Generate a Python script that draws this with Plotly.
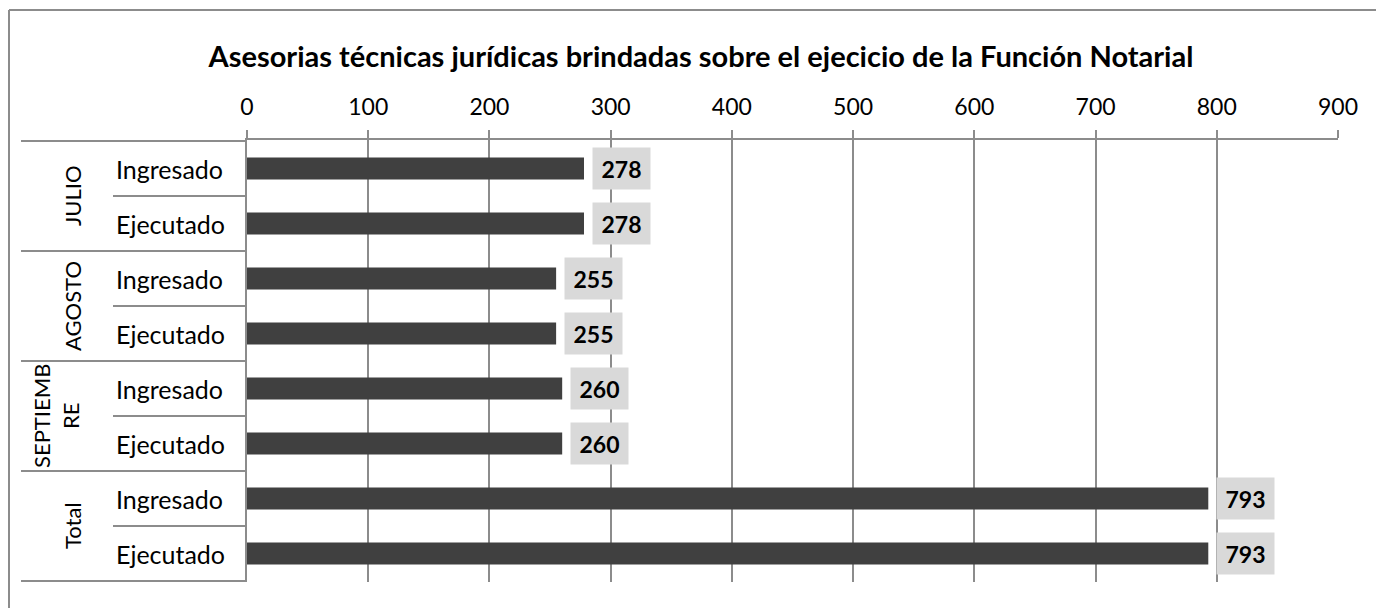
import plotly.graph_objects as go

# ---- data ----
months = ["JULIO", "AGOSTO", "SEPTIEMBRE", "Total"]
month_labels = ["JULIO", "AGOSTO", "SEPTIEMB<br>RE", "Total"]
statuses = ["Ingresado", "Ejecutado"]
ingresado = [278, 255, 260, 793]
ejecutado = [278, 255, 260, 793]
x_ticks = [0, 100, 200, 300, 400, 500, 600, 700, 800, 900]
title = "Asesorias técnicas jurídicas brindadas sobre el ejecicio de la Función Notarial"

# build rows
cats, vals, stat_lbl = [], [], []
for m, vi, ve in zip(months, ingresado, ejecutado):
    for s, v in zip(statuses, [vi, ve]):
        cats.append(f"{m}|{s}")
        vals.append(v)
        stat_lbl.append(s)

OFF = 8  # page body margin
W, H = 1384 - OFF, 608 - OFF
L, R, T, B = 247 - OFF, 46, 140 - OFF, 26
pw = W - L - R
ph = H - T - B
FONT = "Lato"
GRID = "#8c8c8c"

def px2paper(px):
    return (px - OFF - L) / pw

def py2paper(py):
    return 1 - (py - OFF - T) / ph

fig = go.Figure()
fig.add_trace(go.Bar(
    x=vals, y=cats, orientation="h",
    marker=dict(color="#404040", line=dict(width=0)),
    width=0.4, hoverinfo="x+y",
))

annotations = []
# data labels
for c, v in zip(cats, vals):
    annotations.append(dict(
        x=v, y=c, xref="x", yref="y", text=f"<b>{v}</b>", showarrow=False,
        xanchor="left", yanchor="middle", xshift=8,
        bgcolor="#d9d9d9", borderpad=8, width=41, height=25,
        font=dict(family=FONT, size=23, color="#000000"),
    ))
# category (status) labels
for c, s in zip(cats, stat_lbl):
    annotations.append(dict(
        x=px2paper(114), y=c, xref="paper", yref="y", text=s, showarrow=False,
        xanchor="left", yanchor="middle",
        font=dict(family=FONT, size=25, color="#000000"),
    ))
# group labels
shapes = []
n = len(statuses)
for i, ml in enumerate(month_labels):
    center = i * n + (n - 1) / 2
    cx = 56 if "<br>" in ml else 72
    annotations.append(dict(
        x=px2paper(cx), y=center, xref="paper", yref="y", text=ml, showarrow=False,
        xanchor="center", yanchor="middle", textangle=-90,
        font=dict(family=FONT, size=22, color="#000000"),
    ))
# group separators
for i in range(len(months) + 1):
    yb = i * n - 0.5
    shapes.append(dict(type="line", xref="paper", yref="y",
                       x0=px2paper(21), x1=0, y0=yb, y1=yb,
                       line=dict(color=GRID, width=2)))
# within-group separators
for i in range(len(months)):
    for j in range(1, n):
        yb = i * n + j - 0.5
        shapes.append(dict(type="line", xref="paper", yref="y",
                           x0=px2paper(113), x1=0, y0=yb, y1=yb,
                           line=dict(color=GRID, width=2)))
# outer border (top & left)
shapes.append(dict(type="line", xref="paper", yref="paper",
                   x0=px2paper(9), x1=px2paper(1400),
                   y0=py2paper(10), y1=py2paper(10),
                   line=dict(color=GRID, width=2)))
shapes.append(dict(type="line", xref="paper", yref="paper",
                   x0=px2paper(9), x1=px2paper(9),
                   y0=py2paper(10), y1=py2paper(640),
                   line=dict(color=GRID, width=2)))

fig.update_layout(
    width=W, height=H,
    margin=dict(l=L, r=R, t=T, b=B),
    paper_bgcolor="white", plot_bgcolor="white",
    showlegend=False, bargap=0.6,
    title=dict(text=f"<b>{title}</b>", x=(701 - OFF) / W, xref="container", xanchor="center",
               y=1 - (57 - OFF) / H, yanchor="middle",
               font=dict(family=FONT, size=29, color="#000000")),
    xaxis=dict(
        side="top", range=[0, 900], tickvals=x_ticks,
        showgrid=True, gridcolor=GRID, gridwidth=2,
        showline=True, linecolor=GRID, linewidth=2,
        ticks="outside", ticklen=8, tickcolor=GRID, tickwidth=2,
        ticklabelstandoff=6,
        tickfont=dict(family=FONT, size=23, color="#000000"),
        zeroline=False, fixedrange=True,
    ),
    yaxis=dict(
        type="category", categoryorder="array", categoryarray=cats,
        autorange="reversed", showticklabels=False,
        showline=True, linecolor=GRID, linewidth=2,
        showgrid=False, zeroline=False, ticks="",
    ),
    annotations=annotations, shapes=shapes,
)

fig.write_html("out.html")
